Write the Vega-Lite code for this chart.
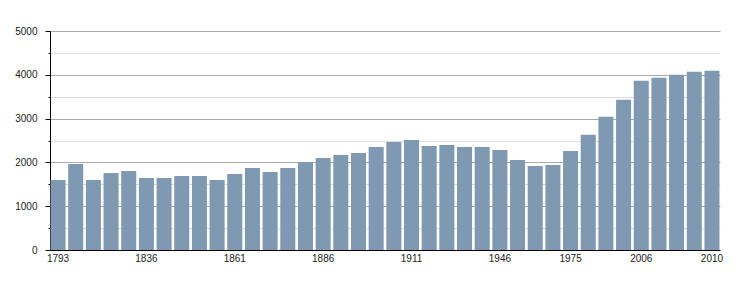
{
  "$schema": "https://vega.github.io/schema/vega-lite/v6.json",
  "width": 670,
  "height": 219,
  "autosize": {"type": "none"},
  "padding": {"left": 50, "top": 31, "right": 30, "bottom": 50},
  "background": "white",
  "config": {"view": {"stroke": null}},
  "data": {"values": [
    {"year": 1793, "pop": 1600}, {"year": 1800, "pop": 1962}, {"year": 1806, "pop": 1600},
    {"year": 1821, "pop": 1757}, {"year": 1831, "pop": 1802}, {"year": 1836, "pop": 1643},
    {"year": 1841, "pop": 1643}, {"year": 1846, "pop": 1688}, {"year": 1851, "pop": 1688},
    {"year": 1856, "pop": 1597}, {"year": 1861, "pop": 1734}, {"year": 1866, "pop": 1871},
    {"year": 1872, "pop": 1780}, {"year": 1876, "pop": 1871}, {"year": 1881, "pop": 2009},
    {"year": 1886, "pop": 2100}, {"year": 1891, "pop": 2168}, {"year": 1896, "pop": 2214},
    {"year": 1901, "pop": 2352}, {"year": 1906, "pop": 2466}, {"year": 1911, "pop": 2511},
    {"year": 1921, "pop": 2374}, {"year": 1926, "pop": 2397}, {"year": 1931, "pop": 2352},
    {"year": 1936, "pop": 2352}, {"year": 1946, "pop": 2283}, {"year": 1954, "pop": 2054},
    {"year": 1962, "pop": 1916}, {"year": 1968, "pop": 1939}, {"year": 1975, "pop": 2259},
    {"year": 1982, "pop": 2631}, {"year": 1990, "pop": 3042}, {"year": 1999, "pop": 3430},
    {"year": 2006, "pop": 3863}, {"year": 2007, "pop": 3932}, {"year": 2008, "pop": 4000},
    {"year": 2009, "pop": 4068}, {"year": 2010, "pop": 4091}
  ]},
  "mark": {"type": "bar", "color": "#7f99b2"},
  "encoding": {
    "x": {
      "field": "year", "type": "ordinal",
      "scale": {"paddingInner": 0.15, "paddingOuter": 0.03},
      "axis": {
        "title": null,
        "values": [1793, 1836, 1861, 1886, 1911, 1946, 1975, 2006, 2010],
        "labelAngle": 0,
        "ticks": false,
        "labelPadding": 3,
        "labelFont": "Liberation Sans",
        "labelFontSize": 10,
        "labelColor": "#222222",
        "domainColor": "#000000",
        "domainWidth": 1,
        "grid": false
      }
    },
    "y": {
      "field": "pop", "type": "quantitative",
      "scale": {"domain": [0, 5000], "nice": false},
      "axis": {
        "title": null,
        "values": [0, 500, 1000, 1500, 2000, 2500, 3000, 3500, 4000, 4500, 5000],
        "labelExpr": "datum.value % 1000 === 0 ? datum.label : ''",
        "format": "d",
        "labelFont": "Liberation Sans",
        "labelFontSize": 10,
        "labelColor": "#222222",
        "labelPadding": 8,
        "domainColor": "#000000",
        "tickColor": "#000000",
        "tickSize": {"condition": {"test": "datum.value % 1000 === 0", "value": 5}, "value": 2},
        "grid": true,
        "gridColor": {"condition": {"test": "datum.value % 1000 === 0", "value": "#aaaaaa"}, "value": "#dddddd"},
        "gridWidth": 1
      }
    }
  }
}
